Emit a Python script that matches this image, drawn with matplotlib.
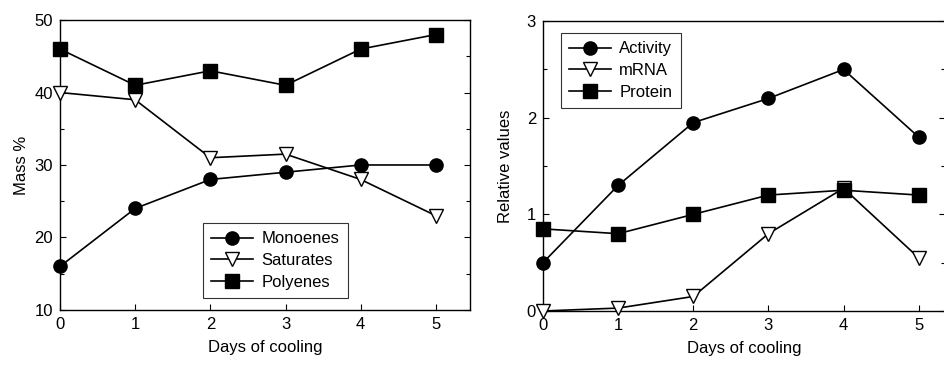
import matplotlib.pyplot as plt
from matplotlib.ticker import MultipleLocator

plt.rcParams['font.family'] = ['Liberation Sans', 'DejaVu Sans']
plt.rcParams['font.size'] = 12

days = [0, 1, 2, 3, 4, 5]

# Left panel: fatty acid composition
monoenes = [16, 24, 28, 29, 30, 30]
saturates = [40, 39, 31, 31.5, 28, 23]
polyenes = [46, 41, 43, 41, 46, 48]

# Right panel: relative values
activity = [0.5, 1.3, 1.95, 2.2, 2.5, 1.8]
mrna = [0.0, 0.03, 0.15, 0.8, 1.27, 0.55]
protein = [0.85, 0.8, 1.0, 1.2, 1.25, 1.2]

fig = plt.figure(figsize=(9.45, 3.65), dpi=100)
ax1 = fig.add_axes([0.0635, 0.151, 0.4335, 0.794])
ax2 = fig.add_axes([0.5746, 0.148, 0.4254, 0.794])

ms = 9.5
style = dict(color='black', linewidth=1.2, markeredgecolor='black', markeredgewidth=1.0)


def draw(ax, series):
    for vals, marker, face, label in series:
        ax.plot(days, vals, marker=marker, markersize=ms, markerfacecolor=face,
                label=label, clip_on=False, zorder=3, **style)
    ax.tick_params(which='both', direction='in', top=False, right=True, width=0.8)
    ax.tick_params(which='major', length=4, pad=5)
    ax.tick_params(which='minor', length=3)
    ax.tick_params(axis='x', which='minor', bottom=False)
    for s in ax.spines.values():
        s.set_linewidth(1.0)
    ax.set_xlabel('Days of cooling', labelpad=6)


def legend(ax, loc, anchor):
    leg = ax.legend(loc=loc, bbox_to_anchor=anchor, borderaxespad=0, frameon=True,
                    fancybox=False, edgecolor='black', handlelength=2.5,
                    borderpad=0.5, labelspacing=0.4, handletextpad=0.5)
    leg.get_frame().set_linewidth(0.8)


draw(ax1, [(monoenes, 'o', 'black', 'Monoenes'),
           (saturates, 'v', 'white', 'Saturates'),
           (polyenes, 's', 'black', 'Polyenes')])
ax1.set_xlim(0, 5.45)
ax1.set_ylim(10, 50)
ax1.set_xticks(days)
ax1.set_yticks([10, 20, 30, 40, 50])
ax1.yaxis.set_minor_locator(MultipleLocator(5))
ax1.set_ylabel('Mass %', labelpad=4)
legend(ax1, 'lower left', (0.349, 0.041))

draw(ax2, [(activity, 'o', 'black', 'Activity'),
           (mrna, 'v', 'white', 'mRNA'),
           (protein, 's', 'black', 'Protein')])
ax2.set_xlim(0, 5.35)
ax2.set_ylim(0, 3)
ax2.set_xticks(days)
ax2.set_yticks([0, 1, 2, 3])
ax2.yaxis.set_minor_locator(MultipleLocator(0.5))
ax2.set_ylabel('Relative values', labelpad=10)
legend(ax2, 'upper left', (0.045, 0.959))

fig.savefig('out.png', dpi=100)
